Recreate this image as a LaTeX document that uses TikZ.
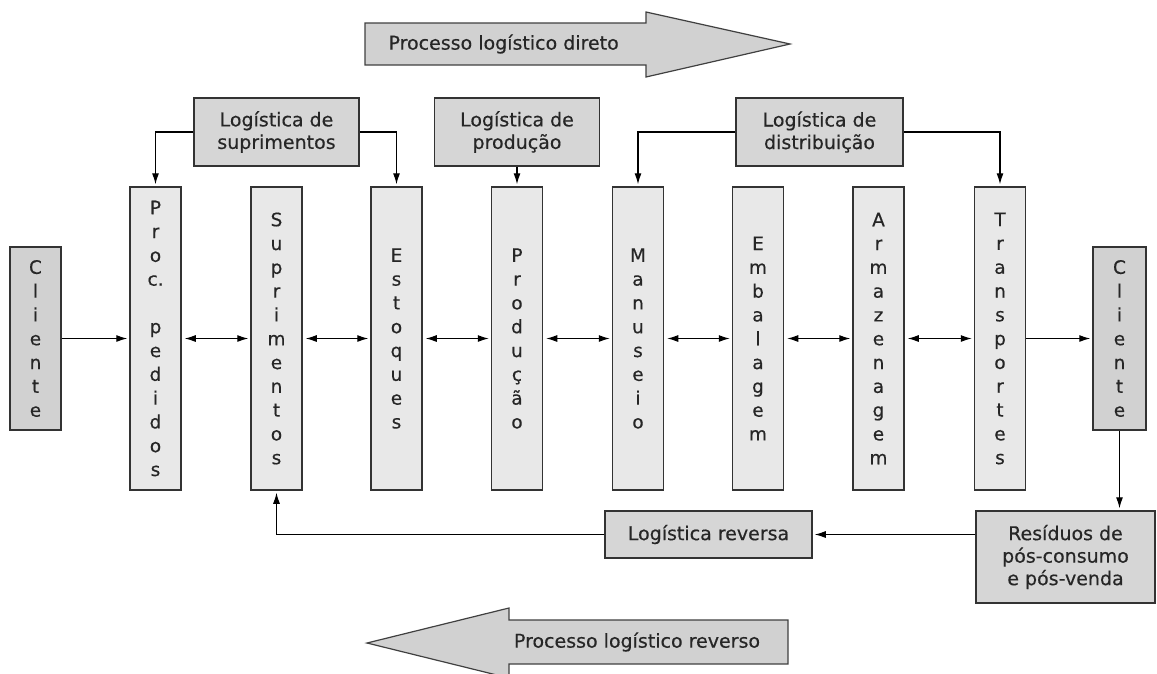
\documentclass[tikz,border=0pt]{standalone}
\usepackage{fontspec}
\setmainfont[FakeBold=0.4]{DejaVu Sans}
\usetikzlibrary{arrows.meta}

\tikzset{
  caixa/.style={draw=black!80, line width=1.5pt, fill=black!16, inner sep=0pt, align=center,
    text=black!85, font=\fontsize{19}{22.5}\selectfont},
  etapa/.style={draw=black!80, line width=1.5pt, fill=black!9, inner sep=0pt, align=center,
    text=black!85, minimum width=51pt, minimum height=303pt, font=\fontsize{18.5}{23.8}\selectfont},
  cliente/.style={etapa, fill=black!18, minimum height=183pt},
  liga/.style={line width=1.1pt, -{Latex[length=11pt,width=7pt]}, shorten >=2pt},
  duplo/.style={line width=1.1pt, {Latex[length=11pt,width=7pt]}-{Latex[length=11pt,width=7pt]},
    shorten >=2pt, shorten <=3pt},
  seta/.style={draw=black!75, line width=1.2pt, fill=black!18}
}

\begin{document}
\begin{tikzpicture}[x=1pt,y=-1pt]
    \useasboundingbox (0,0) rectangle (1157,673);

    % Setas grandes
    \draw[seta] (365,23) -- (646,23) -- (646,12) -- (790,44) -- (646,77) -- (646,65) -- (365,65) -- cycle;
    \node[anchor=west, text=black!85, font=\fontsize{19}{22}\selectfont] (direto) at (385,44) {Processo logístico direto};
    \draw[seta] (788,620) -- (509,620) -- (509,608) -- (367,643) -- (509,678) -- (509,664) -- (788,664) -- cycle;
    \node[text=black!85, font=\fontsize{19}{22}\selectfont] (reverso) at (637,642) {Processo logístico reverso};

    % Logisticas
    \node[caixa, minimum width=165pt, minimum height=68pt] (lsup) at (276.5,132) {Logística de\\suprimentos};
    \node[caixa, minimum width=165pt, minimum height=68pt] (lprod) at (517,132) {Logística de\\produção};
    \node[caixa, minimum width=167pt, minimum height=68pt] (ldist) at (819.5,132) {Logística de\\distribuição};

    % Etapas
    \node[cliente] (cli1) at (35.5,338.5) {C\\l\\i\\e\\n\\t\\e};
    \node[etapa] (proc) at (155.5,338.5) {P\\r\\o\\c.\\\mbox{}\\p\\e\\d\\i\\d\\o\\s};
    \node[etapa] (supr) at (276.5,338.5) {S\\u\\p\\r\\i\\m\\e\\n\\t\\o\\s};
    \node[etapa] (est) at (396.5,338.5) {E\\s\\t\\o\\q\\u\\e\\s};
    \node[etapa] (prod) at (517,338.5) {P\\r\\o\\d\\u\\ç\\ã\\o};
    \node[etapa] (man) at (638,338.5) {M\\a\\n\\u\\s\\e\\i\\o};
    \node[etapa] (emb) at (758,338.5) {E\\m\\b\\a\\l\\a\\g\\e\\m};
    \node[etapa] (arm) at (878.5,338.5) {A\\r\\m\\a\\z\\e\\n\\a\\g\\e\\m};
    \node[etapa] (trans) at (1000,338.5) {T\\r\\a\\n\\s\\p\\o\\r\\t\\e\\s};
    \node[cliente, minimum width=53pt] (cli2) at (1119.5,338.5) {C\\l\\i\\e\\n\\t\\e};

    % Reversa
    \node[caixa, minimum width=207pt, minimum height=47pt] (rev) at (708.5,534.5) {Logística reversa};
    \node[caixa, minimum width=179pt, minimum height=92pt] (res) at (1065.5,557) {Resíduos de\\pós-consumo\\e pós-venda};

    % Ligacoes de cima
    \draw[liga] (lsup.west) -| (proc.north);
    \draw[liga] (lsup.east) -| (est.north);
    \draw[liga] (lprod.south) -- (prod.north);
    \draw[liga] (ldist.west) -| (man.north);
    \draw[liga] (ldist.east) -| (trans.north);

    % Fluxo direto
    \draw[liga] (cli1.east) -- (proc.west);
    \draw[duplo] (proc.east) -- (supr.west);
    \draw[duplo] (supr.east) -- (est.west);
    \draw[duplo] (est.east) -- (prod.west);
    \draw[duplo] (prod.east) -- (man.west);
    \draw[duplo] (man.east) -- (emb.west);
    \draw[duplo] (emb.east) -- (arm.west);
    \draw[duplo] (arm.east) -- (trans.west);
    \draw[liga] (trans.east) -- (cli2.west);

    % Fluxo reverso
    \draw[liga] (cli2.south) -- (cli2.south |- res.north);
    \draw[liga] (rev.east -| res.west) -- (rev.east);
    \draw[liga] (rev.west) -| (supr.south);
\end{tikzpicture}
\end{document}
